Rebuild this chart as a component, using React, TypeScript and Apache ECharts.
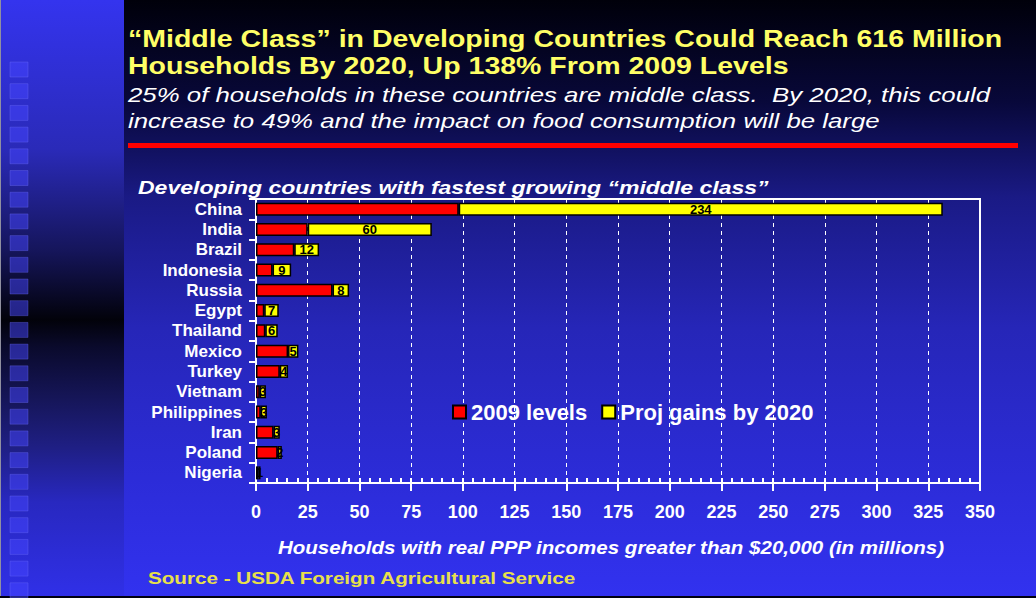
import React, { useEffect, useRef } from "react";
import * as echarts from "echarts";

const countries = ["China", "India", "Brazil", "Indonesia", "Russia", "Egypt", "Thailand", "Mexico", "Turkey", "Vietnam", "Philippines", "Iran", "Poland", "Nigeria"];
const levels2009 = [98, 25, 18.5, 8, 37, 4, 4.5, 15.5, 11.5, 1.8, 2.3, 8.5, 10.5, 1.2];
const gains2020 = [234, 60, 12, 9, 8, 7, 6, 5, 4, 3, 3, 3, 2, 1];
const xTicks = [0, 350, 25];

const titleLines = [
  "\u201CMiddle Class\u201D in Developing Countries Could Reach 616 Million",
  "Households By 2020, Up 138% From 2009 Levels",
];
const subtitleLines = [
  "25% of households in these countries are middle class.  By 2020, this could",
  "increase to 49% and the impact on food consumption will be large",
];
const chartTitle = "Developing countries with fastest growing \u201Cmiddle class\u201D";
const axisTitle = "Households with real PPP incomes greater than $20,000 (in millions)";
const sourceText = "Source - USDA Foreign Agricultural Service";

const FONT = "'Liberation Sans', Arial, Helvetica, sans-serif";
const NARROW = "'Liberation Sans Narrow', 'Arial Narrow', 'Liberation Sans', Arial, sans-serif";

export default function App() {
  const ref = useRef<HTMLDivElement>(null);
  useEffect(() => {
    document.body.style.margin = "0";
    const chart = echarts.init(ref.current!, undefined, { renderer: "svg" });

    const squares: any[] = [];
    for (let y = 62; y < 592; y += 21.7) {
      squares.push({
        type: "rect",
        z: -90,
        silent: true,
        shape: { x: 10, y: y, width: 18, height: 15 },
        style: { fill: "rgba(70,70,255,0.5)", stroke: "rgba(120,120,255,0.3)", lineWidth: 1 },
      });
    }

    const option: any = {
      animation: false,
      grid: {
        left: 256, top: 199, width: 724, height: 284,
        show: true, borderColor: "#ffffff", borderWidth: 2, backgroundColor: "transparent",
      },
      legend: {
        left: 447, top: 396,
        itemWidth: 13, itemHeight: 13, itemGap: 14,
        icon: "rect",
        textStyle: { color: "#ffffff", fontSize: 22, fontWeight: "bold", fontFamily: FONT },
        data: ["2009 levels", "Proj gains by 2020"],
      },
      xAxis: [
        {
          type: "value", min: xTicks[0], max: xTicks[1], interval: xTicks[2], position: "bottom",
          axisLine: { show: true, lineStyle: { color: "#ffffff", width: 2 } },
          axisTick: { show: true, length: 8, lineStyle: { color: "#ffffff", width: 2 } },
          axisLabel: { color: "#ffffff", fontSize: 18, fontWeight: "bold", fontFamily: FONT, margin: 20 },
          splitLine: { show: true, lineStyle: { color: "#ffffff", type: [4, 4], width: 1 } },
        },
        {
          type: "value", min: xTicks[0], max: xTicks[1], interval: 5, position: "bottom",
          axisLine: { show: false },
          axisTick: { show: true, inside: true, length: 5, lineStyle: { color: "#ffffff", width: 2 } },
          axisLabel: { show: false },
          splitLine: { show: false },
        },
      ],
      yAxis: {
        type: "category", inverse: true, data: countries,
        axisLine: { show: true, lineStyle: { color: "#ffffff", width: 2 } },
        axisTick: { show: true, length: 7, lineStyle: { color: "#ffffff", width: 2 } },
        axisLabel: { interval: 0, color: "#ffffff", fontSize: 17, fontWeight: "bold", fontFamily: FONT, margin: 14 },
      },
      series: [
        {
          name: "2009 levels", type: "bar", stack: "t", barWidth: 13, xAxisIndex: 0,
          data: levels2009,
          itemStyle: { color: "#ff0000", borderColor: "#000000", borderWidth: 1.5 },
        },
        {
          name: "Proj gains by 2020", type: "bar", stack: "t", barWidth: 13, xAxisIndex: 0,
          data: gains2020,
          itemStyle: { color: "#ffff00", borderColor: "#000000", borderWidth: 1.5 },
          label: {
            show: true, position: "inside", color: "#000000",
            fontSize: 13, fontWeight: "bold", fontFamily: NARROW,
          },
        },
      ],
      graphic: [
        {
          type: "rect", z: -100, silent: true,
          shape: { x: 0, y: 0, width: 1036, height: 598 },
          style: {
            fill: new echarts.graphic.LinearGradient(0, 0, 0, 1, [
              { offset: 0, color: "#00000a" },
              { offset: 0.17, color: "#08083a" },
              { offset: 0.33, color: "#1a1a85" },
              { offset: 0.55, color: "#2626b8" },
              { offset: 0.8, color: "#2c2cd8" },
              { offset: 1, color: "#3232f0" },
            ]),
          },
        },
        {
          type: "rect", z: -95, silent: true,
          shape: { x: 0, y: 0, width: 124, height: 598 },
          style: {
            fill: new echarts.graphic.LinearGradient(0, 0, 0, 1, [
              { offset: 0, color: "#3434ee" },
              { offset: 0.25, color: "#2a2ab8" },
              { offset: 0.42, color: "#15155a" },
              { offset: 0.535, color: "#02020a" },
              { offset: 0.58, color: "#0a0a2c" },
              { offset: 0.67, color: "#16165a" },
              { offset: 0.75, color: "#1f1f85" },
              { offset: 0.84, color: "#2828c0" },
              { offset: 1, color: "#3030e8" },
            ]),
          },
        },
        { type: "rect", z: -94, silent: true, shape: { x: 0, y: 0, width: 1, height: 598 }, style: { fill: "#9090a0" } },
        { type: "rect", z: -94, silent: true, shape: { x: 0, y: 596, width: 1036, height: 2 }, style: { fill: "#000010" } },
        ...squares,
        { type: "rect", z: 10, shape: { x: 128, y: 143, width: 890, height: 5 }, style: { fill: "#ff0000" } },
        ...titleLines.map((t, i) => ({
          type: "text", z: 10, x: 128, y: 39 + i * 27, scaleX: 1.24,
          style: { text: t, fill: "#ffff66", font: `bold 23px ${FONT}`, verticalAlign: "middle" },
        })),
        ...subtitleLines.map((t, i) => ({
          type: "text", z: 10, x: 128, y: 95 + i * 26, scaleX: 1.23,
          style: { text: t, fill: "#ffffff", font: `italic 21px ${FONT}`, verticalAlign: "middle" },
        })),
        {
          type: "text", z: 10, x: 138, y: 187, scaleX: 1.28,
          style: { text: chartTitle, fill: "#ffffff", font: `italic bold 18px ${FONT}`, verticalAlign: "middle" },
        },
        {
          type: "text", z: 10, x: 611, y: 547, scaleX: 1.08,
          style: { text: axisTitle, fill: "#ffffff", font: `italic bold 19px ${FONT}`, align: "center", verticalAlign: "middle" },
        },
        {
          type: "text", z: 10, x: 148, y: 578, scaleX: 1.29,
          style: { text: sourceText, fill: "#e8e04a", font: `bold 16px ${FONT}`, verticalAlign: "middle" },
        },
      ],
    };
    chart.setOption(option);
    return () => chart.dispose();
  }, []);
  return <div ref={ref} style={{ width: 1036, height: 598 }} />;
}
